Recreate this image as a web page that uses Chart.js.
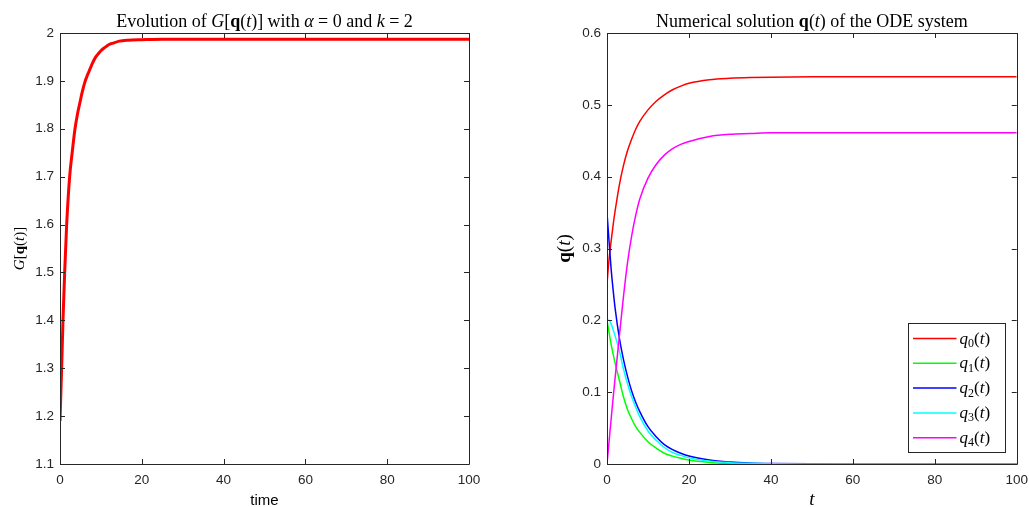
<!DOCTYPE html>
<html>
<head>
<title>G[q(t)] evolution and ODE solution</title>
<script src="https://cdn.jsdelivr.net/npm/chart.js"></script>
<style>
    body { margin: 0; background: #fff; overflow: hidden; }
    #wrap { position: relative; width: 1029px; height: 507px; overflow: hidden; }
    canvas { position: absolute; top: 0; }
    #left { left: 0; }
    #right { left: 515px; }
</style>
</head>
<body>
<div id="wrap">
    <canvas id="left" width="515" height="507"></canvas>
    <canvas id="right" width="521" height="507"></canvas>
</div>
<script>
// left panel: G[q(t)]
const gTime  = [0, 0.4, 0.73, 1.14, 1.63, 2.36, 3, 3.67, 4.3, 4.9, 5.5, 6.1, 6.7, 7.3, 8, 8.6, 9.3, 10, 11, 11.8, 13, 14.5, 16.6, 20, 25, 30, 40, 60, 80, 100];
const gValue = [1.19, 1.30, 1.40, 1.50, 1.60, 1.70, 1.752, 1.80, 1.832, 1.856, 1.879, 1.898, 1.912, 1.924, 1.938, 1.948, 1.956, 1.963, 1.970, 1.975, 1.979, 1.983, 1.985, 1.986, 1.987, 1.987, 1.987, 1.987, 1.987, 1.987];

// right panel: q0..q4
const qTime = [0, 0.5, 1, 1.5, 2, 3, 4, 5, 6, 7, 8, 10, 12, 14, 16, 18, 20, 25, 30, 35, 40, 50, 60, 80, 100];
const q0 = [0.251, 0.285, 0.31, 0.333, 0.353, 0.388, 0.415, 0.436, 0.452, 0.466, 0.477, 0.493, 0.505, 0.514, 0.521, 0.526, 0.530, 0.535, 0.537, 0.538, 0.5385, 0.539, 0.539, 0.539, 0.539];
const q1 = [0.2, 0.183, 0.167, 0.153, 0.140, 0.117, 0.094, 0.076, 0.063, 0.052, 0.044, 0.031, 0.022, 0.015, 0.011, 0.008, 0.0055, 0.0022, 0.0009, 0.0004, 0.0002, 0, 0, 0, 0];
const q2 = [0.35, 0.31, 0.272, 0.242, 0.216, 0.176, 0.146, 0.122, 0.102, 0.086, 0.073, 0.052, 0.038, 0.027, 0.020, 0.015, 0.011, 0.0055, 0.0028, 0.0014, 0.0007, 0.0002, 0.0001, 0, 0];
const q3 = [0.2, 0.2, 0.195, 0.187, 0.178, 0.158, 0.133, 0.112, 0.094, 0.079, 0.066, 0.046, 0.033, 0.023, 0.016, 0.012, 0.0085, 0.004, 0.0019, 0.0009, 0.0004, 0.0001, 0, 0, 0];
const q4 = [0, 0.031, 0.062, 0.092, 0.121, 0.177, 0.232, 0.28, 0.317, 0.346, 0.369, 0.398, 0.417, 0.430, 0.439, 0.445, 0.449, 0.456, 0.459, 0.460, 0.461, 0.461, 0.461, 0.461, 0.461];
const qNames = ['0', '1', '2', '3', '4'];
const qColors = ['#ff0000', '#00ff00', '#0000ff', '#00ffff', '#ff00ff'];

const AXIS = '#262626';
const SANS = '"Liberation Sans", Arial, sans-serif';
const SERIF = '"Liberation Serif", "Times New Roman", serif';
const rm = s => s + 'px ' + SERIF;
const it = s => 'italic ' + s + 'px ' + SERIF;
const bf = s => 'bold ' + s + 'px ' + SERIF;

function pts(xs, ys) {
    return xs.map((x, i) => ({ x: x, y: ys[i] }));
}

// draws a run of text pieces with their own fonts, [text, font, dy]
function drawRich(ctx, parts, x, y, rot) {
    let w = 0;
    parts.forEach(p => { ctx.font = p[1]; w += ctx.measureText(p[0]).width; });
    ctx.save();
    ctx.translate(x, y);
    if (rot) ctx.rotate(rot);
    ctx.fillStyle = '#000';
    ctx.textAlign = 'left';
    ctx.textBaseline = 'alphabetic';
    let cx = -w / 2;
    parts.forEach(p => {
        ctx.font = p[1];
        ctx.fillText(p[0], cx, p[2] || 0);
        cx += ctx.measureText(p[0]).width;
    });
    ctx.restore();
}

const frame = {
    id: 'frame',
    afterDatasetsDraw(chart) {
        const { ctx, chartArea: a, scales: { x, y } } = chart;
        ctx.save();
        ctx.strokeStyle = AXIS;
        ctx.lineWidth = 1;
        ctx.beginPath();
        x.ticks.forEach(t => {
            const px = Math.round(x.getPixelForValue(t.value)) + 0.5;
            ctx.moveTo(px, a.bottom); ctx.lineTo(px, a.bottom - 5);
            ctx.moveTo(px, a.top); ctx.lineTo(px, a.top + 5);
        });
        y.ticks.forEach(t => {
            const py = Math.round(y.getPixelForValue(t.value)) + 0.5;
            ctx.moveTo(a.left, py); ctx.lineTo(a.left + 5, py);
            ctx.moveTo(a.right, py); ctx.lineTo(a.right - 5, py);
        });
        ctx.rect(Math.round(a.left) + 0.5, Math.round(a.top) + 0.5,
                 Math.round(a.right - a.left), Math.round(a.bottom - a.top));
        ctx.stroke();
        ctx.restore();
    }
};

const labels = {
    id: 'labels',
    afterDraw(chart, args, opts) {
        const { ctx, chartArea: a } = chart;
        const cx = (a.left + a.right) / 2;
        const cy = (a.top + a.bottom) / 2;
        drawRich(ctx, opts.title, cx, 26.5);
        drawRich(ctx, opts.xTitle, cx, 505);
        drawRich(ctx, opts.yTitle, opts.yPos, cy, -Math.PI / 2);
    }
};

const qLegend = {
    id: 'qLegend',
    afterDraw(chart) {
        const { ctx, chartArea: a } = chart;
        const w = 97, h = 129;
        const left = Math.round(a.right - 12 - w) + 0.5;
        const top = Math.round(a.bottom - 12 - h) + 0.5;
        ctx.save();
        ctx.fillStyle = '#fff';
        ctx.fillRect(left, top, w, h);
        ctx.strokeStyle = AXIS;
        ctx.lineWidth = 1;
        ctx.strokeRect(left, top, w, h);
        chart.data.datasets.forEach((ds, i) => {
            const ry = top + 15 + i * 24.8;
            ctx.strokeStyle = ds.borderColor;
            ctx.lineWidth = 1.5;
            ctx.beginPath();
            ctx.moveTo(left + 4.5, ry);
            ctx.lineTo(left + 48, ry);
            ctx.stroke();
            let x = left + 51;
            const parts = [['q', it(17), 0], [qNames[i], rm(12), 3.5], ['(', rm(17), 0], ['t', it(17), 0], [')', rm(17), 0]];
            ctx.fillStyle = '#000';
            ctx.textAlign = 'left';
            ctx.textBaseline = 'alphabetic';
            parts.forEach(p => {
                ctx.font = p[1];
                ctx.fillText(p[0], x, ry + 5 + p[2]);
                x += ctx.measureText(p[0]).width;
            });
        });
        ctx.restore();
    }
};

function axes(yMin, yMax, yWidth) {
    const tickFont = { family: SANS, size: 13.5 };
    return {
        x: {
            type: 'linear', min: 0, max: 100,
            ticks: { stepSize: 20, color: AXIS, font: tickFont, padding: 8, maxRotation: 0 },
            grid: { display: false, drawTicks: false },
            border: { display: false },
            afterFit: s => { s.height = 43; }
        },
        y: {
            min: yMin, max: yMax,
            ticks: { stepSize: 0.1, color: AXIS, font: tickFont, padding: 6,
                     callback: v => String(Math.round(v * 10) / 10) },
            grid: { display: false, drawTicks: false },
            border: { display: false },
            afterFit: s => { s.width = yWidth; }
        }
    };
}

new Chart(document.getElementById('left'), {
    type: 'line',
    data: {
        datasets: [{
            data: pts(gTime, gValue),
            borderColor: '#ff0000',
            borderWidth: 3,
            pointRadius: 0,
            cubicInterpolationMode: 'monotone'
        }]
    },
    options: {
        responsive: false,
        animation: false,
        devicePixelRatio: 1,
        layout: { padding: { left: 0, right: 46, top: 33, bottom: 0 } },
        scales: axes(1.1, 2, 60),
        plugins: {
            legend: { display: false },
            tooltip: { enabled: false },
            labels: {
                title: [['Evolution of ', rm(18)], ['G', it(18)], ['[', rm(18)], ['q', bf(18)], ['(', rm(18)],
                        ['t', it(18)], [')]', rm(18)], [' with ', rm(18)], ['α', it(18)], [' = 0 and ', rm(18)],
                        ['k', it(18)], [' = 2', rm(18)]],
                xTitle: [['time', '15px ' + SANS]],
                yTitle: [['G', it(15)], ['[', rm(15)], ['q', bf(15)], ['(', rm(15)], ['t', it(15)], [')]', rm(15)]],
                yPos: 24
            }
        }
    },
    plugins: [frame, labels]
});

const qSeries = [q0, q1, q2, q3, q4];
new Chart(document.getElementById('right'), {
    type: 'line',
    data: {
        datasets: qSeries.map((vals, i) => ({
            label: 'q' + qNames[i] + '(t)',
            data: pts(qTime, vals),
            borderColor: qColors[i],
            borderWidth: 1.5,
            pointRadius: 0,
            cubicInterpolationMode: 'monotone',
            order: 4 - i
        }))
    },
    options: {
        responsive: false,
        animation: false,
        devicePixelRatio: 1,
        layout: { padding: { left: 0, right: 17, top: 33, bottom: 0 } },
        scales: axes(0, 0.6, 92),
        plugins: {
            legend: { display: false },
            tooltip: { enabled: false },
            labels: {
                title: [['Numerical solution ', rm(18)], ['q', bf(18)], ['(', rm(18)], ['t', it(18)], [')', rm(18)],
                        [' of the ODE system', rm(18)]],
                xTitle: [['t', it(19)]],
                yTitle: [['q', bf(19)], ['(', rm(19)], ['t', it(19)], [')', rm(19)]],
                yPos: 55
            }
        }
    },
    plugins: [frame, labels, qLegend]
});
</script>
</body>
</html>
